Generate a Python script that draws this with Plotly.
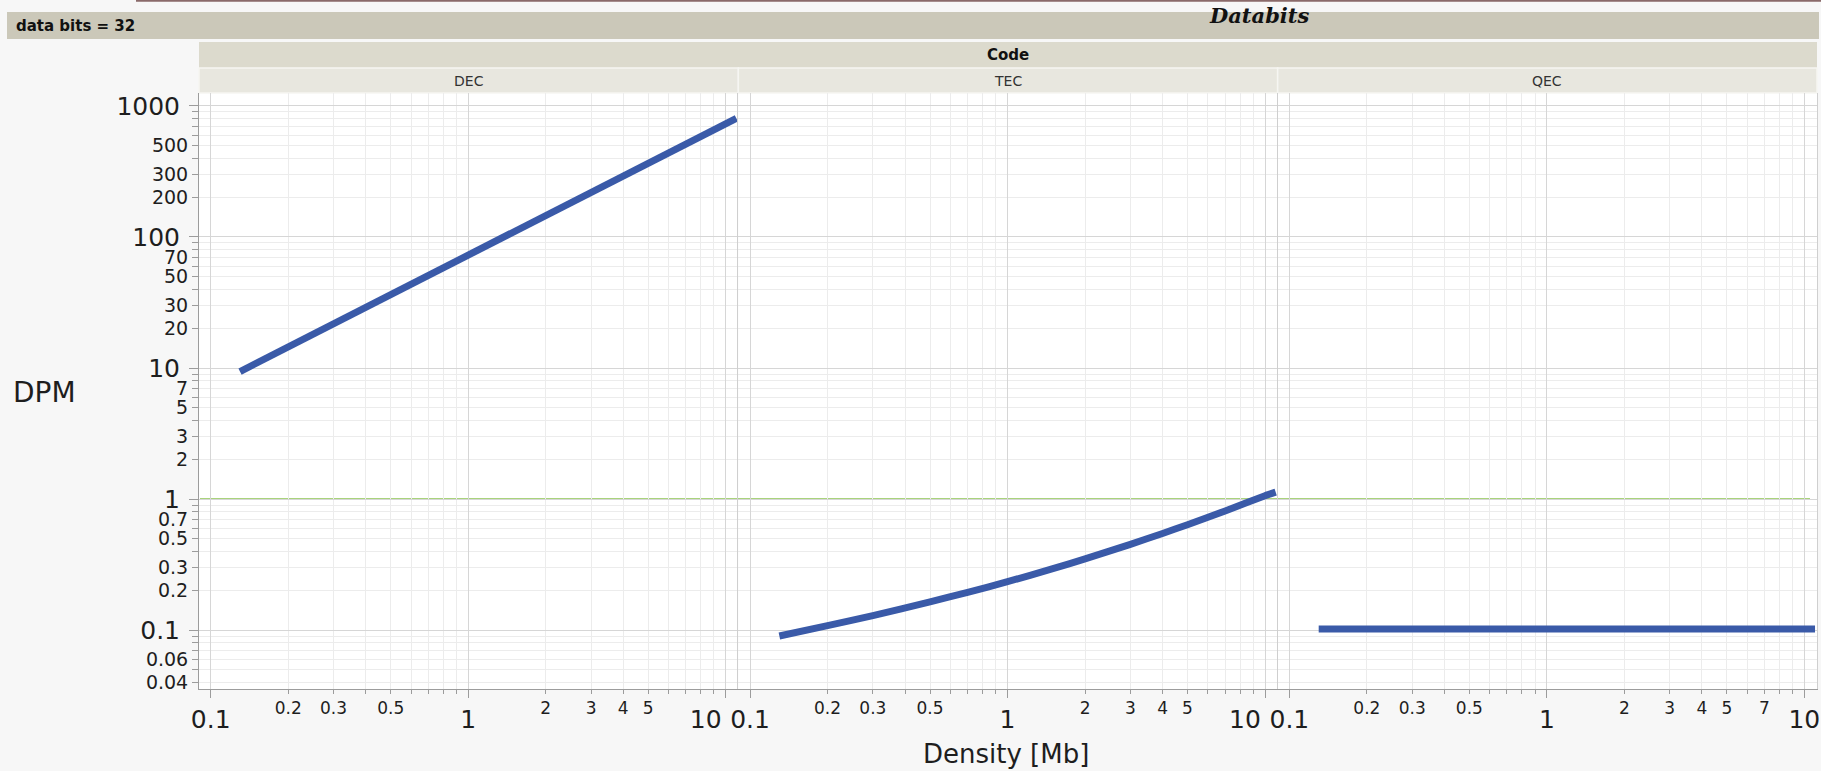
import plotly.graph_objects as go

# ---------------------------------------------------------------- data
DENSITY_MB = [0.13, 0.2, 0.3, 0.5, 0.7, 1, 1.5, 2, 3, 4, 5, 7, 10, 11]
DPM_DEC = [9.4, 14.5, 21.7, 36, 50.5, 72, 108, 145, 217, 290, 362, 505, 730, 805]
DPM_TEC = [0.090, 0.108, 0.129, 0.164, 0.194, 0.234, 0.294, 0.349, 0.451, 0.546, 0.637, 0.811, 1.06, 1.13]
DPM_QEC = [0.102, 0.102, 0.102, 0.102, 0.102, 0.102, 0.102, 0.102, 0.102, 0.102, 0.102, 0.102, 0.102, 0.102]
CODES = ["DEC", "TEC", "QEC"]
SERIES = {"DEC": DPM_DEC, "TEC": DPM_TEC, "QEC": DPM_QEC}
TARGET_DPM = 1

# decade labels; in the inner panels the "10" sits on its own axis so it can be
# nudged left, clear of the next panel's "0.1"
X_MAJOR = {"DEC": [0.1, 1], "TEC": [0.1, 1], "QEC": [0.1, 1, 10]}
X_MAJOR_TEXT = {"DEC": ["0.1", "1"], "TEC": ["0.1", "1"], "QEC": ["0.1", "1", "10"]}
X_EDGE = [10]
X_EDGE_TEXT = ["10"]
X_MINOR = {
    "DEC": [0.2, 0.3, 0.5, 2, 3, 4, 5],
    "TEC": [0.2, 0.3, 0.5, 2, 3, 4, 5],
    "QEC": [0.2, 0.3, 0.5, 2, 3, 4, 5, 7],
}
X_MINOR_TEXT = {
    "DEC": ["0.2", "0.3", "0.5", "2", "3", "4", "5"],
    "TEC": ["0.2", "0.3", "0.5", "2", "3", "4", "5"],
    "QEC": ["0.2", "0.3", "0.5", "2", "3", "4", "5", "7"],
}
Y_MAJOR = [0.1, 1, 10, 100, 1000]
Y_MAJOR_TEXT = ["0.1", "1", "10", "100", "1000"]
Y_MINOR = [0.04, 0.06, 0.2, 0.3, 0.5, 0.7, 2, 3, 5, 7, 20, 30, 50, 70, 200, 300, 500]
Y_MINOR_TEXT = ["0.04", "0.06", "0.2", "0.3", "0.5", "0.7", "2", "3", "5", "7",
                "20", "30", "50", "70", "200", "300", "500"]

GROUP_LABEL = "data bits = 32"
OVERLAY_TITLE = "Databits"
FACET_TITLE = "Code"
X_TITLE = "Density [Mb]"
Y_TITLE = "DPM"

# ---------------------------------------------------------------- geometry / style
W, H = 1821, 771
PL, PR, PT, PB = 199, 1817, 93, 689          # plot area (px)
X_RANGE = [-1.0454, 1.0491]                  # log10 range of each panel
Y_RANGE = [-1.450, 3.099]

FONT = "DejaVu Sans"
TXT = "#1e1e1e"
AXIS_COL = "#9c9c9c"
GRID_MAJOR = "#d6d6d6"
GRID_MINOR = "#ececec"
LINE_BLUE = "#3a5aa8"
REF_GREEN = "#8cc450"
CLEAR = "rgba(0,0,0,0)"


def px_x(px):
    return (px - PL) / (PR - PL)


def px_y(py):
    return (PB - py) / (PB - PT)


def ghost(x, y, xaxis, yaxis):
    """Invisible copy of a series, binding an overlaid label axis to the data."""
    return go.Scatter(x=x, y=y, mode="lines", line=dict(color=CLEAR, width=0),
                      xaxis=xaxis, yaxis=yaxis, showlegend=False, hoverinfo="skip")


fig = go.Figure()

# ---------------------------------------------------------------- traces
for i, code in enumerate(CODES):
    n = i + 1
    suffix = "" if n == 1 else str(n)
    fig.add_trace(go.Scatter(
        x=DENSITY_MB, y=SERIES[code], mode="lines",
        line=dict(color=LINE_BLUE, width=7,
                  shape="spline" if code == "TEC" else "linear", smoothing=0.6),
        xaxis="x" + suffix, yaxis="y" + suffix,
        showlegend=False, hoverinfo="x+y",
    ))
    fig.add_trace(ghost(DENSITY_MB, SERIES[code], f"x{n + 3}", "y" + suffix))
    if code != "QEC":
        fig.add_trace(ghost(DENSITY_MB, SERIES[code], f"x{n + 6}", "y" + suffix))
fig.add_trace(ghost(DENSITY_MB, DPM_DEC, "x", "y4"))

layout = dict(
    width=W, height=H,
    margin=dict(l=PL, r=W - PR, t=PT, b=H - PB, pad=0, autoexpand=False),
    paper_bgcolor="#f7f7f7", plot_bgcolor="white",
    font=dict(family=FONT, color=TXT),
    showlegend=False,
)

# ---------------------------------------------------------------- axes
for i, code in enumerate(CODES):
    n = i + 1
    xname = "xaxis" if n == 1 else f"xaxis{n}"
    yname = "yaxis" if n == 1 else f"yaxis{n}"
    xref = "x" if n == 1 else f"x{n}"
    yref = "y" if n == 1 else f"y{n}"
    dom = [i / 3, (i + 1) / 3]

    layout[xname] = dict(
        domain=dom, anchor=yref, type="log", range=X_RANGE, automargin=False,
        tickmode="array", tickvals=X_MINOR[code], ticktext=X_MINOR_TEXT[code],
        tickfont=dict(size=17, color=TXT, family=FONT),
        ticks="outside", ticklen=4, tickcolor=AXIS_COL, tickwidth=1,
        showline=True, linecolor=AXIS_COL, linewidth=1,
        showgrid=True, gridcolor=GRID_MINOR, gridwidth=1, zeroline=False,
        minor=dict(dtick="D1", ticks="outside", ticklen=4, tickcolor=AXIS_COL,
                   showgrid=True, gridcolor=GRID_MINOR, gridwidth=1),
    )
    major = dict(
        overlaying=xref, anchor=yref, side="bottom", type="log", range=X_RANGE,
        automargin=False, tickmode="array",
        tickfont=dict(size=25, color=TXT, family=FONT),
        ticks="outside", ticklen=8, tickcolor=AXIS_COL, tickwidth=1,
        showgrid=True, gridcolor=GRID_MAJOR, gridwidth=1, zeroline=False,
        showline=False,
    )
    layout[f"xaxis{n + 3}"] = dict(major, tickvals=X_MAJOR[code], ticktext=X_MAJOR_TEXT[code])
    if code != "QEC":
        layout[f"xaxis{n + 6}"] = dict(major, tickvals=X_EDGE, ticktext=X_EDGE_TEXT,
                                      ticklabelshift=-20)

    if n == 1:
        layout[yname] = dict(
            domain=[0, 1], anchor=xref, type="log", range=Y_RANGE, automargin=False,
            tickmode="array", tickvals=Y_MINOR, ticktext=Y_MINOR_TEXT,
            tickfont=dict(size=19, color=TXT, family=FONT),
            ticks="outside", ticklen=6, tickcolor=AXIS_COL, tickwidth=1,
            showline=True, linecolor=AXIS_COL, linewidth=1,
            showgrid=True, gridcolor=GRID_MINOR, zeroline=False,
            minor=dict(dtick="D1", ticks="outside", ticklen=6, tickcolor=AXIS_COL,
                       showgrid=True, gridcolor=GRID_MINOR),
        )
    else:
        layout[yname] = dict(
            domain=[0, 1], anchor=xref, type="log", range=Y_RANGE, matches="y",
            automargin=False,
            tickmode="array", tickvals=Y_MAJOR, showticklabels=False, ticks="",
            showline=True, linecolor="#cfcfcf", linewidth=1, mirror=(n == 3),
            showgrid=True, gridcolor=GRID_MAJOR, zeroline=False,
            minor=dict(dtick="D1", ticks="", showgrid=True, gridcolor=GRID_MINOR),
        )

layout["yaxis4"] = dict(
    overlaying="y", anchor="x", side="left", type="log", range=Y_RANGE,
    automargin=False,
    tickmode="array", tickvals=Y_MAJOR, ticktext=Y_MAJOR_TEXT,
    tickfont=dict(size=25, color=TXT, family=FONT),
    ticks="outside", ticklen=9, tickcolor=AXIS_COL, tickwidth=1,
    ticklabelstandoff=4,
    showgrid=True, gridcolor=GRID_MAJOR, zeroline=False, showline=False,
)

fig.update_layout(**layout)

# ---------------------------------------------------------------- headers & strips
shapes = []
annotations = []

# thin rule along the very top
shapes.append(dict(type="line", xref="paper", yref="paper",
                   x0=px_x(136), x1=px_x(1821), y0=px_y(0.8), y1=px_y(0.8),
                   line=dict(color="#8a6a6a", width=2)))
# group bar
shapes.append(dict(type="rect", xref="paper", yref="paper",
                   x0=px_x(7), x1=px_x(1819), y0=px_y(39), y1=px_y(12),
                   fillcolor="#cbc8b9", line=dict(width=0), layer="below"))
annotations.append(dict(text="<b>" + GROUP_LABEL + "</b>", xref="paper", yref="paper",
                        x=px_x(14), y=px_y(26), xanchor="left", yanchor="middle",
                        showarrow=False, font=dict(size=15, color="#111", family=FONT)))
annotations.append(dict(text="<b><i>" + OVERLAY_TITLE + "</i></b>", xref="paper", yref="paper",
                        x=px_x(1259), y=px_y(15), xanchor="center", yanchor="middle",
                        showarrow=False, font=dict(size=21, color="#111", family="DejaVu Serif")))
# facet title strip
shapes.append(dict(type="rect", xref="paper", yref="paper",
                   x0=0, x1=1, y0=px_y(68), y1=px_y(42),
                   fillcolor="#dcdacd", line=dict(width=0), layer="below"))
annotations.append(dict(text="<b>" + FACET_TITLE + "</b>", xref="paper", yref="paper",
                        x=0.5, y=px_y(55), xanchor="center", yanchor="middle",
                        showarrow=False, font=dict(size=15, color="#111", family=FONT)))
# per-panel strips
for i, code in enumerate(CODES):
    shapes.append(dict(type="rect", xref="paper", yref="paper",
                       x0=i / 3, x1=(i + 1) / 3, y0=1, y1=px_y(68),
                       fillcolor="#e8e7df", line=dict(color="#f6f6f2", width=1.5),
                       layer="below"))
    annotations.append(dict(text=code, xref="paper", yref="paper",
                            x=(i + 0.5) / 3, y=px_y(80.5), xanchor="center", yanchor="middle",
                            showarrow=False, font=dict(size=14, color="#333", family=FONT)))

# target DPM reference line across all panels
shapes.append(dict(type="line", xref="paper", yref="y",
                   x0=px_x(200), x1=px_x(1810), y0=TARGET_DPM, y1=TARGET_DPM,
                   line=dict(color=REF_GREEN, width=1.6), layer="between"))

# axis titles
annotations.append(dict(text=Y_TITLE, xref="paper", yref="paper",
                        x=px_x(44), y=px_y(392), xanchor="center", yanchor="middle",
                        showarrow=False, font=dict(size=28, color=TXT, family=FONT)))
annotations.append(dict(text=X_TITLE, xref="paper", yref="paper",
                        x=px_x(1006), y=px_y(754), xanchor="center", yanchor="middle",
                        showarrow=False, font=dict(size=26, color=TXT, family=FONT)))

fig.update_layout(shapes=shapes, annotations=annotations)

fig.write_html("out.html")
